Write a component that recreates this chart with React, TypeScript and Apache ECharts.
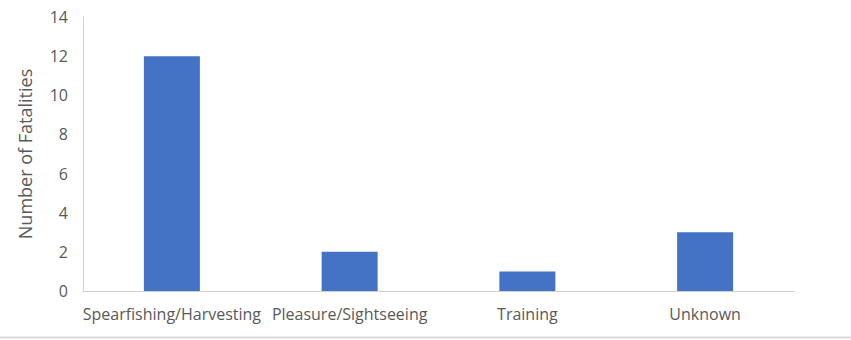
import React, { useEffect, useRef } from "react";
import * as echarts from "echarts";

const categories = ["Spearfishing/Harvesting", "Pleasure/Sightseeing", "Training", "Unknown"];
const fatalities = [12, 2, 1, 3];
const yAxisTitle = "Number of Fatalities";

export default function App() {
  const ref = useRef<HTMLDivElement>(null);
  useEffect(() => {
    if (!ref.current) return;
    const chart = echarts.init(ref.current, null, { renderer: "svg" });
    const font = "Open Sans";
    chart.setOption({
      animation: false,
      backgroundColor: "#ffffff",
      grid: { left: 83, right: 57, top: 17, bottom: 49, containLabel: false },
      xAxis: {
        type: "category",
        data: categories,
        axisLine: { show: true, lineStyle: { color: "#d0d0d0", width: 1 } },
        axisTick: { show: false },
        axisLabel: { color: "#595959", fontSize: 16, fontFamily: font, margin: 15, interval: 0 },
      },
      yAxis: {
        type: "value",
        min: 0,
        max: 14,
        interval: 2,
        name: yAxisTitle,
        nameLocation: "middle",
        nameGap: 49,
        nameTextStyle: { color: "#595959", fontSize: 18, fontFamily: font },
        axisLine: { show: true, lineStyle: { color: "#d0d0d0", width: 1 } },
        axisTick: { show: false },
        splitLine: { show: false },
        axisLabel: { color: "#595959", fontSize: 16, fontFamily: font, margin: 15 },
      },
      series: [
        {
          type: "bar",
          data: fatalities,
          barWidth: 56,
          itemStyle: { color: "#4472C4" },
        },
      ],
      graphic: [
        {
          type: "line",
          shape: { x1: 0, y1: 337.5, x2: 851, y2: 337.5 },
          style: { stroke: "#d9d9d9", lineWidth: 2 },
        },
      ],
    });
    return () => chart.dispose();
  }, []);
  return (
    <div
      ref={ref}
      style={{ position: "absolute", left: 0, top: 0, width: 851, height: 340 }}
    />
  );
}
